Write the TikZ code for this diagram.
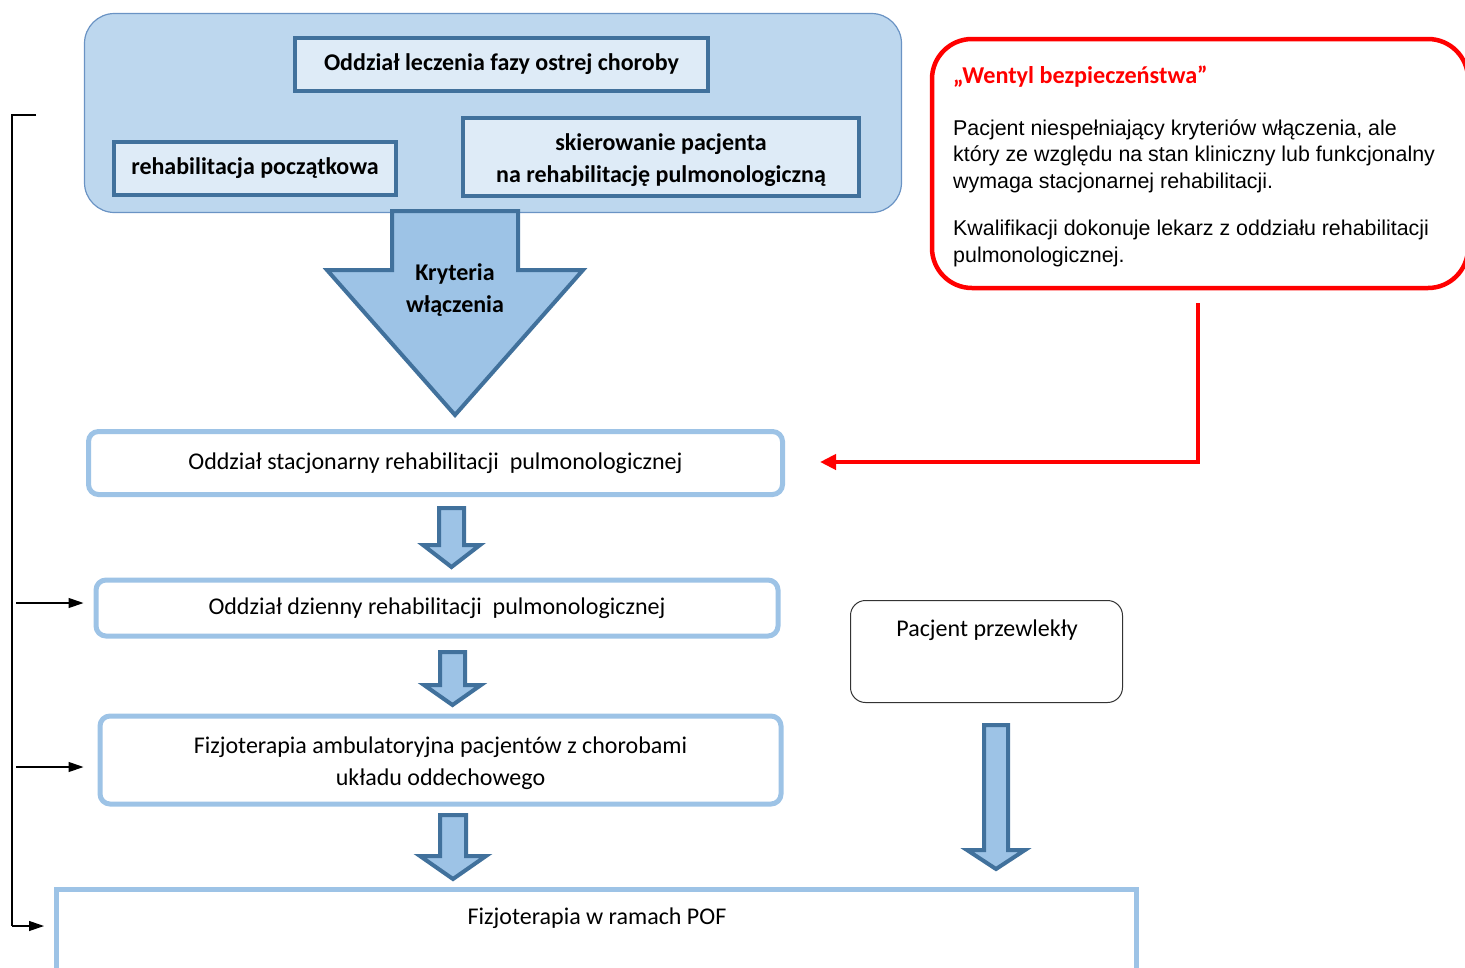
\documentclass[tikz,border=0pt]{standalone}
\usepackage{fontspec}
\setmainfont{Carlito}
\newfontfamily\arialf{Liberation Sans}
\usetikzlibrary{arrows.meta}
\definecolor{bgblue}{HTML}{BDD7EE}
\definecolor{innerfill}{HTML}{DEEBF7}
\definecolor{darkb}{HTML}{41719C}
\definecolor{lightb}{HTML}{9DC3E6}
\definecolor{rimb}{HTML}{6A93C4}
\definecolor{redc}{HTML}{FF0000}
\tikzset{
  group/.style={draw=rimb, line width=1.2pt, fill=bgblue, rounded corners=30pt, inner sep=0pt},
  innerbox/.style={draw=darkb, line width=4pt, fill=innerfill, inner sep=0pt, align=center,
     font=\fontsize{24}{32}\selectfont\bfseries},
  lightbox/.style={draw=lightb, line width=5pt, fill=white, rounded corners=10pt, inner sep=0pt, align=center,
     font=\fontsize{24}{32}\selectfont},
  thinbox/.style={draw=black!80, line width=1pt, fill=white, rounded corners=15pt, inner sep=0pt},
  redbox/.style={draw=redc, line width=4.5pt, fill=white, rounded corners=40pt, inner sep=0pt},
  blockarrow/.style={draw=darkb, line width=4pt, fill=lightb, line join=miter},
  txt/.style={inner sep=0pt, align=center, font=\fontsize{24}{32}\selectfont},
  thinarrow/.style={line width=1.2pt, -{Triangle[length=15pt,width=10pt]}},
}
\begin{document}
\begin{tikzpicture}[x=1pt,y=-1pt]
\useasboundingbox (0,0) rectangle (1465,967);
\clip (0,0) rectangle (1465,967);

% top group
\node[group, minimum width=817pt, minimum height=199pt] (grp) at (493,113) {};
\node[innerbox, minimum width=413pt, minimum height=53pt] (acute) at (501.5,64.5) {Oddział leczenia fazy ostrej choroby};
\node[innerbox, minimum width=282pt, minimum height=53pt] (init) at (255,168.5) {rehabilitacja początkowa};
\node[innerbox, minimum width=396pt, minimum height=78pt] (refer) at (661,157) {};
\node[txt, font=\fontsize{24}{32}\selectfont\bfseries] (refertxt) at (661,160) {skierowanie pacjenta\\na rehabilitację pulmonologiczną};

% big arrow
\draw[blockarrow] (392,211) -- (392,270) -- (327,270) -- (455,415) -- (583,270) -- (518,270) -- (518,211) -- cycle;
\node[txt, font=\fontsize{24}{32}\selectfont\bfseries] (krit) at (455,290) {Kryteria\\włączenia};

% main column
\node[lightbox, minimum width=694pt, minimum height=63pt] (stac) at (435.5,463) {Oddział stacjonarny rehabilitacji\ \ pulmonologicznej};
\node[lightbox, minimum width=682pt, minimum height=56pt] (dzien) at (437,608) {Oddział dzienny rehabilitacji\ \ pulmonologicznej};
\node[lightbox, minimum width=681pt, minimum height=88pt] (ambul) at (440.5,760) {};
\node[txt] (ambultxt) at (440.5,763) {Fizjoterapia ambulatoryjna pacjentów z chorobami\\układu oddechowego};
\node[lightbox, rounded corners=0pt, minimum width=1080pt, minimum height=81pt] (pof) at (596.5,930) {};
\node[txt] (poftxt) at (597,918) {Fizjoterapia w ramach POF};

% block arrows between boxes
\draw[blockarrow] (439,508) -- (464,508) -- (464,545) -- (480,545) -- (451.5,567) -- (423,545) -- (439,545) -- cycle;
\draw[blockarrow] (440,652) -- (465,652) -- (465,685) -- (481,685) -- (452.5,705) -- (424,685) -- (440,685) -- cycle;
\draw[blockarrow] (440,815) -- (466,815) -- (466,856) -- (486,856) -- (453,879) -- (420,856) -- (440,856) -- cycle;

% chronic patient
\node[thinbox, minimum width=272pt, minimum height=102pt] (chron) at (986.5,651.5) {};
\node[txt] (chrontxt) at (987,630) {Pacjent przewlekły};
\draw[blockarrow] (984,725) -- (1008,725) -- (1008,850) -- (1025,850) -- (996,869) -- (967,850) -- (984,850) -- cycle;

% safety valve
\node[redbox, minimum width=536pt, minimum height=249pt] (valve) at (1200,163.5) {};
\node[inner sep=0pt, anchor=north west, align=left, font=\arialf\fontsize{21.4}{26.7}\selectfont] (valvetxt) at (953,66)
  {{\fontsize{24.2}{26.7}\selectfont\rmfamily\bfseries\color{redc}„Wentyl bezpieczeństwa”}\\[24.5pt]
   Pacjent niespełniający kryteriów włączenia, ale\\
   który ze względu na stan kliniczny lub funkcjonalny\\
   wymaga stacjonarnej rehabilitacji.\\[20.5pt]
   Kwalifikacji dokonuje lekarz z oddziału rehabilitacji\\
   pulmonologicznej.};
\coordinate (rstart) at (1198,303);
\coordinate (rend) at (820,462);
\draw[redc, line width=4pt, -{Triangle[length=16pt,width=15pt]}] (rstart) |- (rend);

% left bracket
\coordinate (btop) at (36,115);
\coordinate (bl) at (12,115);
\coordinate (bb) at (12,926);
\draw[line width=1.2pt] (btop) -- (bl) -- (bb);
\draw[thinarrow] (bb) -- ([xshift=-10pt]pof.west |- bb);
\draw[thinarrow] (16,603) -- ([xshift=-10pt]dzien.west |- 0,603);
\draw[thinarrow] (16,767) -- ([xshift=-14pt]ambul.west |- 0,767);
\end{tikzpicture}
\end{document}
